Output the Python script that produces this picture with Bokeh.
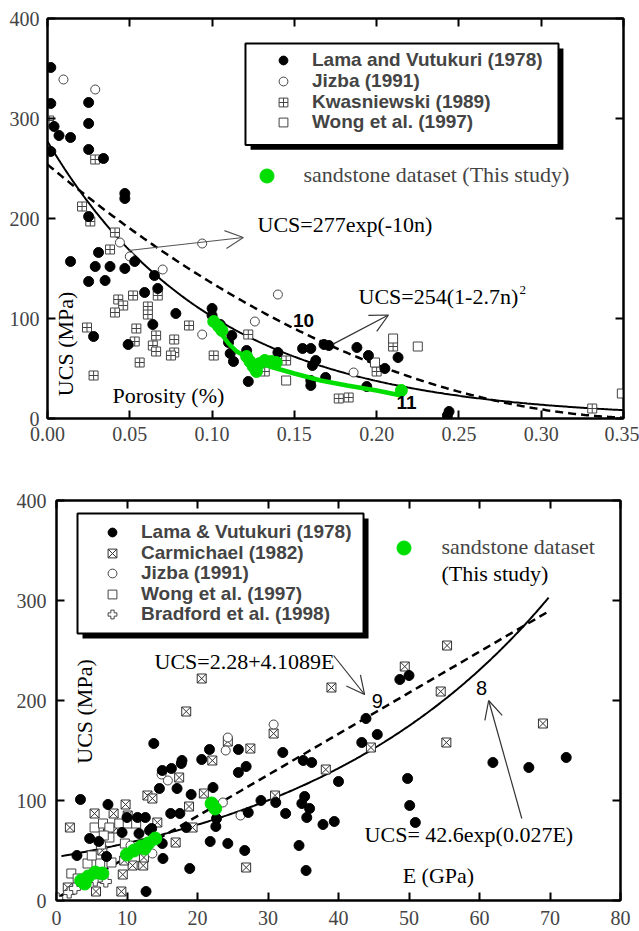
import numpy as np
from bokeh.plotting import figure
from bokeh.layouts import column, row
from bokeh.models import (LinearAxis, FixedTicker, NumeralTickFormatter, Label, Arrow, OpenHead,
                          Legend, LegendItem, BoxAnnotation, Range1d, CustomJSTickFormatter, Spacer)
from bokeh.embed import file_html
from bokeh.resources import INLINE

# ---------------- TOP PANEL DATA (porosity fraction, UCS MPa) ----------------
lama_n = [0.002, 0.002, 0.002, 0.004, 0.007, 0.014, 0.025, 0.025, 0.025, 0.034, 0.047, 0.047, 0.025,
          0.014, 0.031, 0.029, 0.038, 0.047, 0.053, 0.025, 0.035, 0.065, 0.059, 0.067, 0.078, 0.064,
          0.028, 0.049, 0.100, 0.100, 0.105, 0.112, 0.110, 0.111, 0.113, 0.121, 0.122, 0.140,
          0.155, 0.160, 0.168, 0.171, 0.163, 0.161, 0.160, 0.160, 0.169, 0.188, 0.195, 0.194,
          0.205, 0.213, 0.243, 0.244]
lama_u = [351, 315, 267, 292, 283, 281, 316, 295, 269, 260, 225, 220, 202,
          157, 166, 152, 152, 150, 157, 137, 138, 143, 126, 130, 105, 94,
          82, 74, 110, 103, 94, 83, 76, 65, 57, 68, 37, 66,
          70, 70, 74, 73, 58, 53, 38, 33, 41, 71, 63, 32,
          50, 61, 3, 7]
jizba_n = [0.0097, 0.029, 0.044, 0.050, 0.070, 0.094, 0.094, 0.126, 0.140, 0.186]
jizba_u = [339, 329, 176, 162, 149, 175, 84, 97, 124, 46]
kwas_n = [0.001, 0.029, 0.021, 0.026, 0.041, 0.038, 0.043, 0.046, 0.041, 0.052, 0.067, 0.061, 0.061,
          0.024, 0.054, 0.053, 0.066, 0.064, 0.066, 0.086, 0.077, 0.077, 0.075, 0.056, 0.028, 0.101,
          0.122, 0.132, 0.145, 0.200, 0.210, 0.177, 0.183, 0.331]
kwas_u = [298, 259, 212, 197, 186, 169, 119, 113, 106, 123, 123, 112, 104,
          91, 90, 77, 83, 73, 67, 93, 79, 66, 63, 56, 43, 63,
          84, 47, 58, 47, 72, 20, 21, 10]
wong_n = [0.145, 0.199, 0.225, 0.210, 0.349]
wong_u = [38, 56, 72, 80, 25]
sand_n = [0.101, 0.104, 0.106, 0.121, 0.123, 0.125, 0.127, 0.129, 0.132, 0.136, 0.139, 0.215]
sand_u = [97, 92, 88, 62, 57, 52, 47, 55, 58, 57, 56, 28]
sandfit_n = [0.100, 0.104, 0.110, 0.115, 0.125, 0.135, 0.150, 0.166, 0.182, 0.200, 0.215]
sandfit_u = [98, 88, 75, 67, 58, 52, 45, 38, 33, 28, 23]
# fitted curves printed on the chart
EXP_A, EXP_B = 277.0, 10.0          # UCS = 277 exp(-10 n)
QUAD_A, QUAD_B = 254.0, 2.7         # UCS = 254 (1 - 2.7 n)^2
top_ticks_x = [0.0, 0.05, 0.10, 0.15, 0.20, 0.25, 0.30, 0.35]
top_ticks_y = [0, 100, 200, 300, 400]
top_labels = ["Lama and Vutukuri (1978)", "Jizba (1991)", "Kwasniewski (1989)", "Wong et al. (1997)"]

# ---------------- BOTTOM PANEL DATA (E GPa, UCS MPa) ----------------
lamaB_e = [3.4, 7.3, 13.8, 2.9, 4.7, 6.0, 7.1, 11.5, 12.6, 12.7, 11.7, 15.0, 15.1, 14.6, 15.0, 16.3,
           17.7, 17.8, 17.1, 16.2, 17.5, 19.1, 18.9, 20.6, 21.7, 22.2, 21.8, 22.6, 22.7, 24.3, 25.8,
           25.8, 26.9, 26.7, 27.2, 31.1, 32.1, 32.5, 34.4, 35.4, 35.0, 36.2, 35.2, 34.8, 35.9, 35.5,
           37.8, 39.4, 40.0, 43.9, 45.5, 43.3, 48.7, 50.0, 49.8, 50.1, 50.9, 61.9, 67.0, 72.3,
           18.4, 13.2, 10.0, 9.3, 13.5, 29.0]
lamaB_u = [101, 96, 157, 45, 62, 59, 44, 83, 83, 9, 67, 57, 42, 112, 130, 132,
           137, 140, 112, 87, 87, 106, 32, 141, 151, 113, 59, 74, 82, 57, 151,
           128, 134, 50, 88, 98, 148, 87, 55, 30, 140, 138, 104, 97, 92, 83,
           76, 79, 119, 182, 166, 158, 221, 225, 122, 95, 78, 138, 133, 143,
           73, 70, 83, 68, 72, 100]
carm_e = [1.9, 5.4, 8.1, 9.8, 10.1, 12.9, 13.6, 14.3, 17.4, 16.9, 18.8, 20.9, 19.3, 22.1, 24.3, 27.5,
          26.9, 30.8, 31.0, 9.2, 5.6, 1.6, 9.4, 10.8, 12.3, 9.6, 12.4, 7.3, 18.4, 20.6, 39.0, 49.4,
          55.4, 54.5, 55.3, 44.6, 38.2, 69.0, 6.5, 8.5]
carm_u = [73, 87, 87, 96, 85, 105, 102, 78, 123, 58, 94, 107, 73, 140, 159, 152,
          33, 167, 105, 9, 9, 13, 26, 35, 35, 40, 43, 67, 189, 222, 213, 234,
          255, 209, 158, 153, 131, 177, 50, 72]
jizbaB_e = [14.9, 13.6, 23.6, 26.1, 24.3, 24.0, 30.8, 15.8, 10.5]
jizbaB_u = [126, 47, 98, 85, 163, 150, 176, 120, 55]
wongB_e = [2.1, 4.4, 6.2, 7.8, 5.4, 6.6, 7.5, 8.9, 10.1, 11.3, 6.3, 7.5, 9.7, 6.7, 3.0, 5.0]
wongB_u = [27, 37, 37, 38, 73, 77, 73, 77, 77, 77, 56, 63, 57, 65, 22, 45]
brad_e = [0.1, 1.8, 2.6, 5.5, 7.0, 6.2]
brad_u = [2, 8, 12, 20, 19, 24]
sandB_e = [3.5, 4.0, 4.5, 5.5, 6.5, 10.0, 11.0, 12.0, 13.0, 14.0, 12.5, 22.0, 22.5]
sandB_u = [20, 17, 24, 28, 27, 46, 50, 54, 57, 62, 52, 97, 92]
LIN_A, LIN_B = 2.28, 4.1089          # UCS = 2.28 + 4.1089 E
EXPE_A, EXPE_B = 43.5, 0.0278        # exponential trend as drawn (labelled 42.6exp(0.027E))
bot_ticks_x = [0, 10, 20, 30, 40, 50, 60, 70, 80]
bot_ticks_y = [0, 100, 200, 300, 400]
bot_labels = ["Lama & Vutukuri (1978)", "Carmichael (1982)", "Jizba (1991)",
              "Wong et al. (1997)", "Bradford et al. (1998)"]

SERIF = "Liberation Serif"
SANS = "Liberation Sans"
GREEN = "#00dd00"


def style_axes(p, xt, yt, xfmt=None):
    p.xaxis.ticker = FixedTicker(ticks=xt)
    p.yaxis.ticker = FixedTicker(ticks=yt)
    if xfmt is not None:
        p.xaxis.formatter = xfmt
    for ax in (p.xaxis[0], p.yaxis[0]):
        ax.axis_line_width = 2
        ax.axis_line_color = "black"
        ax.major_tick_in = 8
        ax.major_tick_out = 0
        ax.major_tick_line_width = 2
        ax.minor_tick_line_color = None
        ax.major_label_text_font = SERIF
        ax.major_label_text_font_size = "20px"
    p.xaxis.major_label_standoff = 8
    p.yaxis.major_label_standoff = 8
    for loc, tk in (("above", xt), ("right", yt)):
        ax = LinearAxis(ticker=FixedTicker(ticks=tk),
                        formatter=CustomJSTickFormatter(code="return ''"),
                        axis_line_width=2, major_tick_in=8, major_tick_out=0,
                        major_tick_line_width=2, minor_tick_line_color=None,
                        major_label_text_font_size="0px", major_label_standoff=0)
        p.add_layout(ax, loc)
    p.grid.visible = False
    p.outline_line_color = "black"
    p.outline_line_width = 2


def lbl(p, x, y, text, size="22px", font=SERIF, align="left", style="normal", angle=0.0, base="middle"):
    p.add_layout(Label(x=x, y=y, text=text, text_font=font, text_font_size=size,
                       text_align=align, text_baseline=base, text_font_style=style,
                       angle=angle, text_color="black"))


def legend_box(p, box, shadow):
    # shadow first, then white framed box
    l, r, t, b = shadow
    p.add_layout(BoxAnnotation(left=l, right=r, top=t, bottom=b, fill_color="black",
                               fill_alpha=1, line_color=None))
    l, r, t, b = box
    p.add_layout(BoxAnnotation(left=l, right=r, top=t, bottom=b, fill_color="white",
                               fill_alpha=1, line_color="black", line_width=2, line_alpha=1))


def legend_row(p, label, renderer, vx, vy, gw=22, gh=22, standoff=18, font=SANS, size="19px",
               style="bold"):
    p.add_layout(Legend(items=[LegendItem(label=label, renderers=[renderer])],
                        location=(vx, vy), padding=0, spacing=0, margin=0,
                        glyph_width=gw, glyph_height=gh, label_height=gh, label_standoff=standoff,
                        label_text_font=font, label_text_font_size=size,
                        label_text_font_style=style, border_line_color=None,
                        background_fill_alpha=0))


# ======================= TOP FIGURE =======================
p1 = figure(width=639, height=455, x_range=Range1d(0, 0.35), y_range=Range1d(0, 400),
            output_backend="svg", toolbar_location=None,
            min_border_left=47, min_border_right=16, min_border_top=18, min_border_bottom=37)
style_axes(p1, top_ticks_x, top_ticks_y, NumeralTickFormatter(format="0.00"))

n_curve = np.linspace(0, 0.35, 300)
p1.line(n_curve, EXP_A * np.exp(-EXP_B * n_curve), line_color="black", line_width=2)
p1.line(n_curve, QUAD_A * (1 - QUAD_B * n_curve) ** 2, line_color="black", line_width=2.5,
        line_dash="8 5")

r_kw = p1.scatter(kwas_n, kwas_u, marker="square_cross", size=9, fill_color="white",
                  line_color="#444444", line_width=1)
r_wo = p1.scatter(wong_n, wong_u, marker="square", size=9, fill_color="white",
                  line_color="#444444", line_width=1)
r_ji = p1.scatter(jizba_n, jizba_u, marker="circle", size=9, fill_color="white",
                  line_color="#444444", line_width=1)
r_la = p1.scatter(lama_n, lama_u, marker="circle", size=10, fill_color="black", line_color="black")
p1.line(sandfit_n, sandfit_u, line_color=GREEN, line_width=4.5)
r_sa = p1.scatter(sand_n, sand_u, marker="circle", size=12, fill_color=GREEN, line_color=GREEN)

legend_box(p1, (0.1203, 0.3105, 375.1, 273.6), (0.1234, 0.3135, 370.1, 268.7))
top_rows_px = [62, 83, 103.5, 124]
for lab, rr, cy in zip(top_labels, [r_la, r_ji, r_kw, r_wo], top_rows_px):
    legend_row(p1, lab, rr, 225, 420 - (cy + 11))
legend_row(p1, "sandstone dataset (This study)", r_sa, 201.5, 225.5, gw=35, gh=35, standoff=20,
           font=SERIF, size="22px", style="normal")

lbl(p1, 0.1276, 194, "UCS=277exp(-10n)")
p1.add_layout(Arrow(x_start=0.0492, y_start=168, x_end=0.119, y_end=181, line_color="#555555",
                    line_width=1.2, end=OpenHead(size=18, line_width=1.2, line_color="#555555")))
lbl(p1, 0.189, 122, "UCS=254(1-2.7n)")
lbl(p1, 0.2868, 132.3, "2", size="13px", base="top")
p1.add_layout(Arrow(x_start=0.1738, y_start=74.6, x_end=0.2072, y_end=103.5, line_color="#333333",
                    line_width=1.2, end=OpenHead(size=18, line_width=1.2, line_color="#333333")))
lbl(p1, 0.1556, 98.5, "10", size="19px", font=SANS, align="center", style="bold")
lbl(p1, 0.2181, 16, "11", size="19px", font=SANS, align="center", style="bold")
lbl(p1, 0.0109, 74.6, "UCS (MPa)", align="center", angle=np.pi / 2)
lbl(p1, 0.0395, 23, "Porosity (%)")

# ======================= BOTTOM FIGURE =======================
p2 = figure(width=627, height=476, x_range=Range1d(0, 80), y_range=Range1d(0, 400),
            output_backend="svg", toolbar_location=None,
            min_border_left=47, min_border_right=16, min_border_top=45, min_border_bottom=31)
style_axes(p2, bot_ticks_x, bot_ticks_y)
p2.xaxis.major_label_standoff = 10
p2.yaxis.major_label_standoff = 10

e_lin = np.linspace(0, 70, 100)
p2.line(e_lin, LIN_A + LIN_B * e_lin, line_color="black", line_width=2.5, line_dash="8 5")
e_exp = np.linspace(0.7, 69.8, 300)
p2.line(e_exp, EXPE_A * np.exp(EXPE_B * e_exp), line_color="black", line_width=2)

r2_ca = p2.scatter(carm_e, carm_u, marker="square_x", size=9, fill_color="white",
                   line_color="#333333", line_width=1)
r2_wo = p2.scatter(wongB_e, wongB_u, marker="square", size=9, fill_color="white",
                   line_color="#444444", line_width=1)
r2_ji = p2.scatter(jizbaB_e, jizbaB_u, marker="circle", size=9, fill_color="white",
                   line_color="#444444", line_width=1)
r2_br = p2.scatter(brad_e, brad_u, marker="plus", size=11, fill_color="white",
                   line_color="#444444", line_width=1)
r2_la = p2.scatter(lamaB_e, lamaB_u, marker="circle", size=10, fill_color="black", line_color="black")
r2_sa = p2.scatter(sandB_e, sandB_u, marker="circle", size=13, fill_color=GREEN, line_color=GREEN)

legend_box(p2, (2.98, 43.55, 387, 267), (3.69, 44.26, 382, 262))
bot_rows_px = [532, 553, 573, 594, 614]
for lab, rr, cy in zip(bot_labels, [r2_la, r2_ca, r2_ji, r2_wo, r2_br], bot_rows_px):
    legend_row(p2, lab, rr, 45, 900 - (cy + 11))
legend_row(p2, "sandstone dataset", r2_sa, 329.5, 335.5, gw=35, gh=35, standoff=21,
           font=SERIF, size="22px", style="normal")
lbl(p2, 54.6, 327, "(This study)")

lbl(p2, 13.9, 239, "UCS=2.28+4.1089E")
p2.add_layout(Arrow(x_start=39.3, y_start=245, x_end=43.7, y_end=206, line_color="#333333",
                    line_width=1.2, end=OpenHead(size=18, line_width=1.2, line_color="#333333")))
lbl(p2, 45.5, 200, "9", size="20px", font=SANS, align="center")
lbl(p2, 60.3, 213, "8", size="20px", font=SANS, align="center")
lbl(p2, 43.7, 66, "UCS= 42.6exp(0.027E)")
p2.add_layout(Arrow(x_start=66.0, y_start=82, x_end=61.3, y_end=200, line_color="#333333",
                    line_width=1.2, end=OpenHead(size=18, line_width=1.2, line_color="#333333")))
lbl(p2, 49.1, 25, "E (GPa)")
lbl(p2, 4.0, 189, "UCS (MPa)", align="center", angle=np.pi / 2)

layout = column(p1, row(Spacer(width=9, height=476), p2, spacing=0), spacing=0)
open("out.html", "w").write(file_html(layout, INLINE))
